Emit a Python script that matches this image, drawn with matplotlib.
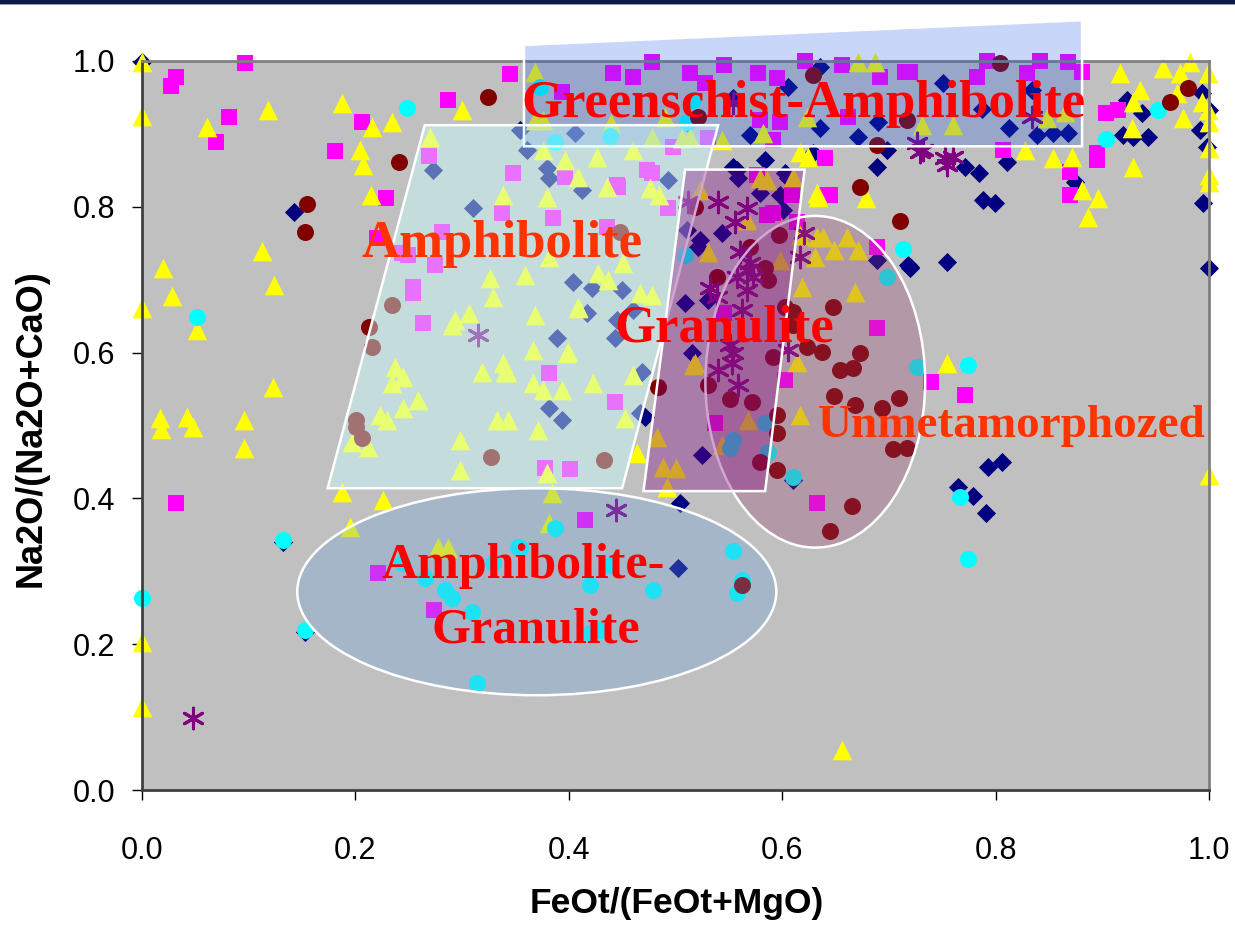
import matplotlib
matplotlib.use("Agg")
import matplotlib.pyplot as plt
from matplotlib.patches import Polygon, Ellipse, Rectangle

# ---------------- data: FeOt/(FeOt+MgO) vs Na2O/(Na2O+CaO) ----------------
diamond_x = [0.000, 0.142, 0.132, 0.153, 0.273, 0.310, 0.361, 0.354, 0.406, 0.380, 0.381, 0.412,
             0.404, 0.422, 0.450, 0.417, 0.460, 0.389, 0.443, 0.469, 0.381, 0.394, 0.467, 0.471,
             0.504, 0.502, 0.525, 0.610, 0.515, 0.493, 0.509, 0.530, 0.570, 0.605, 0.554, 0.689,
             0.671, 0.635, 0.635, 0.690, 0.698, 0.718, 0.554, 0.559, 0.584, 0.598, 0.603, 0.601,
             0.523, 0.544, 0.558, 0.579, 0.605, 0.629, 0.720, 0.689, 0.521, 0.511, 0.445, 0.751,
             0.813, 0.834, 0.839, 0.854, 0.868, 0.811, 0.771, 0.784, 0.788, 0.799, 0.874, 0.923,
             0.937, 0.929, 0.943, 0.919, 0.993, 1.000, 0.992, 0.998, 0.994, 1.000, 0.754, 0.720,
             0.793, 0.806, 0.765, 0.779, 0.791, 0.512, 0.787]
diamond_y = [0.999, 0.793, 0.340, 0.217, 0.850, 0.798, 0.878, 0.905, 0.901, 0.853, 0.840, 0.823,
             0.697, 0.689, 0.686, 0.654, 0.658, 0.620, 0.620, 0.573, 0.524, 0.508, 0.517, 0.512,
             0.394, 0.305, 0.460, 0.425, 0.599, 0.837, 0.668, 0.672, 0.898, 0.964, 0.949, 0.855,
             0.896, 0.908, 0.992, 0.916, 0.878, 0.720, 0.855, 0.840, 0.864, 0.816, 0.846, 0.796,
             0.754, 0.764, 0.850, 0.819, 0.840, 0.874, 0.717, 0.727, 0.745, 0.768, 0.645, 0.970,
             0.908, 0.960, 0.898, 0.901, 0.901, 0.861, 0.855, 0.846, 0.809, 0.805, 0.834, 0.947,
             0.929, 0.896, 0.896, 0.898, 0.956, 0.933, 0.905, 0.882, 0.805, 0.716, 0.724, 0.716,
             0.443, 0.450, 0.416, 0.403, 0.380, 0.915, 0.934]

square_x = [0.097, 0.032, 0.027, 0.082, 0.069, 0.181, 0.287, 0.206, 0.229, 0.345, 0.220, 0.269,
            0.348, 0.337, 0.385, 0.396, 0.446, 0.281, 0.244, 0.249, 0.275, 0.254, 0.254, 0.263,
            0.436, 0.381, 0.443, 0.378, 0.401, 0.415, 0.689, 0.603, 0.537, 0.633, 0.032, 0.221,
            0.274, 0.394, 0.441, 0.460, 0.478, 0.514, 0.528, 0.545, 0.577, 0.595, 0.579, 0.598,
            0.591, 0.621, 0.656, 0.662, 0.692, 0.715, 0.640, 0.642, 0.576, 0.586, 0.591, 0.609,
            0.530, 0.498, 0.478, 0.445, 0.792, 0.842, 0.868, 0.881, 0.829, 0.783, 0.903, 0.915,
            0.895, 0.895, 0.807, 0.870, 0.870, 0.739, 0.771, 0.720, 0.473, 0.493, 0.645, 0.614,
            0.689, 0.545]
square_y = [0.997, 0.978, 0.966, 0.923, 0.889, 0.877, 0.947, 0.916, 0.812, 0.982, 0.757, 0.870,
            0.846, 0.791, 0.785, 0.841, 0.827, 0.765, 0.737, 0.734, 0.720, 0.690, 0.682, 0.641,
            0.772, 0.572, 0.532, 0.442, 0.440, 0.370, 0.634, 0.562, 0.503, 0.394, 0.394, 0.298,
            0.247, 0.957, 0.984, 0.978, 0.999, 0.984, 0.970, 0.995, 0.984, 0.977, 0.919, 0.916,
            0.892, 1.000, 0.995, 0.923, 0.978, 0.985, 0.867, 0.816, 0.844, 0.789, 0.791, 0.816,
            0.894, 0.882, 0.846, 0.830, 1.000, 1.000, 0.999, 0.985, 0.984, 0.978, 0.929, 0.933,
            0.874, 0.864, 0.878, 0.848, 0.816, 0.560, 0.542, 0.985, 0.850, 0.798, 0.816, 0.779,
            0.745, 0.654]

triangle_x = [0.000, 0.000, 0.000, 0.000, 0.000, 0.017, 0.018, 0.042, 0.048, 0.096, 0.096, 0.123,
              0.020, 0.028, 0.052, 0.112, 0.124, 0.118, 0.061, 0.187, 0.216, 0.234, 0.204, 0.207,
              0.215, 0.300, 0.270, 0.338, 0.368, 0.376, 0.368, 0.440, 0.490, 0.506, 0.544, 0.582,
              0.623, 0.671, 0.687, 0.617, 0.634, 0.679, 0.376, 0.396, 0.426, 0.460, 0.478, 0.409,
              0.436, 0.380, 0.476, 0.485, 0.514, 0.917, 0.957, 0.982, 0.999, 0.973, 0.970, 0.935,
              0.929, 0.928, 0.976, 0.993, 0.999, 1.000, 1.000, 1.000, 1.000, 0.929, 0.881, 0.896,
              0.887, 0.854, 0.872, 0.828, 0.754, 1.000, 0.760, 0.731, 0.848, 0.865, 0.409, 0.368,
              0.366, 0.398, 0.342, 0.366, 0.376, 0.394, 0.423, 0.460, 0.343, 0.371, 0.453, 0.464,
              0.483, 0.488, 0.500, 0.380, 0.384, 0.492, 0.381, 0.516, 0.568, 0.544, 0.614, 0.617,
              0.656, 0.586, 0.579, 0.610, 0.523, 0.633, 0.624, 0.567, 0.617, 0.598, 0.633, 0.638,
              0.661, 0.649, 0.671, 0.631, 0.619, 0.668, 0.518, 0.530, 0.467, 0.478, 0.326, 0.329,
              0.359, 0.306, 0.409, 0.427, 0.437, 0.451, 0.293, 0.381, 0.291, 0.237, 0.245, 0.234,
              0.259, 0.223, 0.230, 0.245, 0.319, 0.338, 0.340, 0.399, 0.333, 0.298, 0.298, 0.197,
              0.212, 0.187, 0.226, 0.195, 0.277, 0.287]
triangle_y = [0.999, 0.925, 0.661, 0.203, 0.114, 0.510, 0.495, 0.512, 0.498, 0.508, 0.469, 0.553,
              0.716, 0.678, 0.631, 0.739, 0.693, 0.933, 0.909, 0.942, 0.909, 0.916, 0.878, 0.857,
              0.816, 0.933, 0.896, 0.816, 0.985, 0.919, 0.919, 0.915, 0.923, 0.894, 0.892, 0.901,
              0.923, 0.999, 0.999, 0.875, 0.813, 0.812, 0.878, 0.864, 0.868, 0.878, 0.896, 0.841,
              0.827, 0.813, 0.826, 0.816, 0.896, 0.984, 0.990, 0.999, 0.984, 0.984, 0.956, 0.960,
              0.944, 0.908, 0.922, 0.944, 0.933, 0.916, 0.881, 0.844, 0.834, 0.855, 0.823, 0.812,
              0.786, 0.867, 0.868, 0.878, 0.586, 0.432, 0.912, 0.912, 0.922, 0.930, 0.661, 0.652,
              0.604, 0.599, 0.573, 0.558, 0.549, 0.549, 0.558, 0.569, 0.508, 0.494, 0.510, 0.462,
              0.484, 0.443, 0.442, 0.435, 0.407, 0.416, 0.366, 0.583, 0.508, 0.473, 0.587, 0.514,
              0.055, 0.837, 0.840, 0.841, 0.823, 0.819, 0.868, 0.782, 0.761, 0.727, 0.759, 0.759,
              0.759, 0.741, 0.741, 0.731, 0.690, 0.683, 0.586, 0.738, 0.682, 0.679, 0.702, 0.676,
              0.706, 0.654, 0.663, 0.709, 0.700, 0.723, 0.645, 0.731, 0.638, 0.580, 0.567, 0.558,
              0.535, 0.514, 0.508, 0.524, 0.573, 0.586, 0.573, 0.601, 0.508, 0.480, 0.439, 0.477,
              0.471, 0.409, 0.398, 0.361, 0.333, 0.332]

cyan_x = [0.000, 0.052, 0.248, 0.132, 0.153, 0.314, 0.373, 0.516, 0.511, 0.387, 0.439, 0.509,
          0.713, 0.698, 0.952, 0.903, 0.726, 0.774, 0.767, 0.774, 0.584, 0.554, 0.551, 0.587,
          0.610, 0.387, 0.354, 0.439, 0.420, 0.479, 0.554, 0.558, 0.562, 0.429, 0.420, 0.244,
          0.265, 0.284, 0.291, 0.309, 0.329, 0.352]
cyan_y = [0.263, 0.649, 0.936, 0.343, 0.219, 0.147, 0.964, 0.947, 0.916, 0.889, 0.897, 0.734,
          0.742, 0.704, 0.933, 0.893, 0.580, 0.583, 0.402, 0.317, 0.503, 0.480, 0.469, 0.464,
          0.429, 0.359, 0.332, 0.309, 0.281, 0.274, 0.328, 0.270, 0.288, 0.219, 0.215, 0.311,
          0.291, 0.274, 0.263, 0.244, 0.311, 0.333]

maroon_x = [0.324, 0.241, 0.155, 0.153, 0.213, 0.234, 0.216, 0.201, 0.201, 0.206, 0.327, 0.433,
            0.448, 0.629, 0.521, 0.689, 0.673, 0.710, 0.717, 0.518, 0.597, 0.570, 0.539, 0.584,
            0.587, 0.648, 0.603, 0.610, 0.623, 0.637, 0.591, 0.673, 0.654, 0.666, 0.610, 0.649,
            0.668, 0.709, 0.694, 0.595, 0.595, 0.579, 0.595, 0.704, 0.717, 0.665, 0.645, 0.484,
            0.530, 0.551, 0.572, 0.562, 0.804, 0.980, 0.963]
maroon_y = [0.951, 0.861, 0.804, 0.765, 0.635, 0.665, 0.608, 0.508, 0.498, 0.483, 0.457, 0.453,
            0.765, 0.981, 0.923, 0.885, 0.827, 0.781, 0.919, 0.800, 0.761, 0.745, 0.704, 0.716,
            0.700, 0.663, 0.663, 0.656, 0.608, 0.601, 0.594, 0.599, 0.576, 0.579, 0.638, 0.540,
            0.528, 0.538, 0.524, 0.514, 0.490, 0.450, 0.439, 0.468, 0.469, 0.390, 0.355, 0.553,
            0.556, 0.536, 0.532, 0.281, 0.997, 0.963, 0.944]

star_x = [0.048, 0.315, 0.444, 0.512, 0.540, 0.567, 0.556, 0.620, 0.617, 0.560, 0.570, 0.567,
          0.558, 0.573, 0.567, 0.532, 0.539, 0.562, 0.551, 0.554, 0.540, 0.729, 0.553, 0.559,
          0.605, 0.834, 0.732, 0.753, 0.760, 0.754, 0.554, 0.726]
star_y = [0.099, 0.624, 0.384, 0.807, 0.807, 0.798, 0.779, 0.764, 0.731, 0.738, 0.723, 0.713,
          0.704, 0.704, 0.686, 0.689, 0.676, 0.658, 0.610, 0.599, 0.576, 0.875, 0.586, 0.556,
          0.604, 0.923, 0.878, 0.867, 0.868, 0.857, 0.942, 0.888]

# ---------------- field outlines (x, y vertices / ellipse params) ----------------
greenschist_field = [(0.358, 1.022), (0.881, 1.056), (0.881, 0.883), (0.358, 0.883)]
amphibolite_field = [(0.174, 0.414), (0.265, 0.912), (0.540, 0.912), (0.450, 0.414)]
granulite_field = [(0.470, 0.410), (0.509, 0.851), (0.621, 0.851), (0.584, 0.410)]
unmeta_field = dict(center=(0.631, 0.560), width=0.206, height=0.455)
amph_gran_field = dict(center=(0.370, 0.272), width=0.449, height=0.284)

fig = plt.figure(figsize=(12.35, 9.26), dpi=100)
fig.patch.set_facecolor("white")
ax = fig.add_axes([142 / 1235, 136 / 926, 1067 / 1235, 729 / 926])
ax.set_facecolor("#c0c0c0")
ax.set_xlim(0, 1)
ax.set_ylim(0, 1)

common = dict(linewidths=0, clip_on=False, zorder=2)
ax.scatter(diamond_x, diamond_y, marker="D", s=95, color="#000080", **common)
ax.scatter(square_x, square_y, marker="s", s=130, color="#ff00ff", **common)
ax.scatter(triangle_x, triangle_y, marker="^", s=200, color="#ffff00", **common)
ax.scatter(cyan_x, cyan_y, marker="o", s=150, color="#00ffff", **common)
ax.scatter(maroon_x, maroon_y, marker="o", s=150, color="#800000", **common)
ax.scatter(star_x, star_y, marker=(6, 2, 0), s=220, color="#800080",
           linewidths=2.2, clip_on=False, zorder=2)

edge = dict(edgecolor="white", linewidth=1.8, clip_on=False, zorder=3)
ax.add_patch(Polygon(greenschist_field, closed=True,
                     facecolor=(26 / 255, 84 / 255, 236 / 255, 0.24), **edge))
ax.add_patch(Polygon(amphibolite_field, closed=True,
                     facecolor=(204 / 255, 1.0, 1.0, 0.45), **edge))
ax.add_patch(Ellipse(unmeta_field["center"], unmeta_field["width"], unmeta_field["height"],
                     facecolor=(150 / 255, 60 / 255, 110 / 255, 0.30), **edge))
ax.add_patch(Ellipse(amph_gran_field["center"], amph_gran_field["width"], amph_gran_field["height"],
                     facecolor=(100 / 255, 160 / 255, 220 / 255, 0.30), **edge))
ax.add_patch(Polygon(granulite_field, closed=True,
                     facecolor=(128 / 255, 0.0, 128 / 255, 0.35), **edge))

serif = dict(family="Liberation Serif", weight="bold", zorder=5, ha="center", va="baseline")
ax.text(0.620, 0.923, "Greenschist-Amphibolite", fontsize=38, color="#ff0000", **serif)
ax.text(0.337, 0.731, "Amphibolite", fontsize=38, color="#ff3300", **serif)
ax.text(0.546, 0.615, "Granulite", fontsize=38, color="#ff0000", **serif)
ax.text(0.815, 0.484, "Unmetamorphozed", fontsize=34, color="#ff3300", **serif)
ax.text(0.357, 0.291, "Amphibolite-", fontsize=36, color="#ff0000", **serif)
ax.text(0.369, 0.203, "Granulite", fontsize=36, color="#ff0000", **serif)

ticks = [0.0, 0.2, 0.4, 0.6, 0.8, 1.0]
tick_labels = ["0.0", "0.2", "0.4", "0.6", "0.8", "1.0"]
ax.set_xticks(ticks)
ax.set_xticklabels(tick_labels)
ax.set_yticks(ticks)
ax.set_yticklabels(tick_labels)
for lab in ax.get_xticklabels() + ax.get_yticklabels():
    lab.set_family("Liberation Sans")
ax.tick_params(axis="x", direction="out", length=7, width=1, labelsize=22, pad=26, color="black")
ax.tick_params(axis="y", direction="out", length=7, width=1, labelsize=22, pad=12, color="black")

for side in ("left", "bottom"):
    ax.spines[side].set_color("#404040")
    ax.spines[side].set_linewidth(2)
for side in ("top", "right"):
    ax.spines[side].set_color("#808080")
    ax.spines[side].set_linewidth(2)

fig.text(677 / 1235, 1 - 904 / 926, "FeOt/(FeOt+MgO)", family="Liberation Sans", weight="bold",
         fontsize=25.5, ha="center", va="center")
fig.text(31 / 1235, 1 - 428 / 926, "Na2O/(Na2O+CaO)", family="Liberation Sans", weight="bold",
         fontsize=26, ha="center", va="center", rotation=90)

# dark banner strip along the top edge
fig.add_artist(Rectangle((0, 1 - 4 / 926), 1, 4 / 926, transform=fig.transFigure,
                         facecolor="#0b1a4a", edgecolor="none"))
fig.add_artist(Rectangle((0, 1 - 5 / 926), 1, 1 / 926, transform=fig.transFigure,
                         facecolor="#9a9a9a", edgecolor="none"))

fig.savefig("out.png", dpi=100)
